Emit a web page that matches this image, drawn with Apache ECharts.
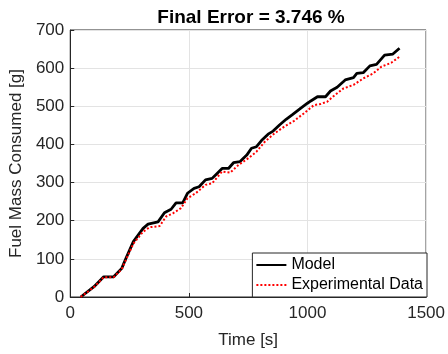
<!DOCTYPE html>
<html><head><meta charset="utf-8">
<script src="https://cdn.jsdelivr.net/npm/echarts@6/dist/echarts.min.js"></script>
<style>html,body{margin:0;padding:0;background:#fff}#c{width:448px;height:354px}</style>
</head><body><div id="c"></div>
<script>
const titleText = 'Final Error = 3.746 %';
const xTicks = [0, 500, 1000, 1500];
const yTicks = [0, 100, 200, 300, 400, 500, 600, 700];
const modelTime = [44,100,141,183,217,238,266,307,328,370,397,425,446,474,494,522,543,570,598,619,640,667,688,716,744,764,785,806,834,855,882,910,938,972,1000,1014,1042,1076,1097,1125,1159,1194,1208,1235,1263,1291,1325,1360,1388];
const modelMass = [0,27,53,53,75,106,145,180,191,197,221,230,247,247,272,285,289,307,311,324,337,337,352,355,372,390,394,410,427,435,451,466,479,495,508,514,525,525,540,550,569,575,586,588,606,610,634,637,652];
const expTime = [44,100,141,183,217,238,266,307,335,377,404,432,467,494,529,570,598,640,674,709,751,785,820,861,903,944,986,1027,1055,1083,1111,1152,1194,1235,1277,1312,1353,1388];
const expMass = [0,26,52,52,73,102,140,171,183,186,211,219,233,259,272,294,298,329,326,346,364,381,407,429,447,462,482,503,506,512,527,547,556,573,586,604,614,630];

const pair = (a, b) => a.map((v, i) => [v, b[i]]);
const txt = '#262626';
const font = 'Liberation Sans, Arial, Helvetica';
const chart = echarts.init(document.getElementById('c'));
chart.setOption({
  animation: false,
  title: { text: titleText, left: 246, top: 3, textAlign: 'center',
    textStyle: { fontFamily: font, fontWeight: 'bold', fontSize: 19, color: '#000' } },
  grid: { left: 66, right: 21, top: 30, bottom: 57, show: true, borderColor: txt, borderWidth: 1, backgroundColor: '#fff' },
  xAxis: { type: 'value', min: xTicks[0], max: xTicks[xTicks.length-1], interval: 500,
    name: 'Time [s]', nameLocation: 'middle', nameGap: 35,
    nameTextStyle: { fontFamily: font, fontSize: 17, color: txt },
    axisLine: { show: true, onZero: false, lineStyle: { color: txt } },
    axisTick: { show: true, inside: true, length: 4, lineStyle: { color: txt } },
    axisLabel: { fontFamily: font, fontSize: 17, color: txt, margin: 8, formatter: v => String(v) },
    splitLine: { show: true, lineStyle: { color: '#e3e3e3', width: 1 } } },
  yAxis: { type: 'value', min: yTicks[0], max: yTicks[yTicks.length-1], interval: 100,
    name: 'Fuel Mass Consumed [g]', nameLocation: 'middle', nameGap: 42,
    nameTextStyle: { fontFamily: font, fontSize: 17, color: txt },
    axisLine: { show: true, lineStyle: { color: txt } },
    axisTick: { show: true, inside: true, length: 4, lineStyle: { color: txt } },
    axisLabel: { fontFamily: font, fontSize: 17, color: txt, margin: 6, formatter: v => String(v) },
    splitLine: { show: true, lineStyle: { color: '#e3e3e3', width: 1 } } },
  legend: { orient: 'vertical', right: 21, bottom: 57, padding: [4, 4, 4, 3], itemGap: 4,
    itemWidth: 30, itemHeight: 16, borderColor: txt, borderWidth: 1, backgroundColor: '#fff',
    itemStyle: { opacity: 0 },
    textStyle: { fontFamily: font, fontSize: 16, color: '#000' },
    data: ['Model', 'Experimental Data'] },
  series: [
    { name: 'Model', type: 'line', symbol: 'none', data: pair(modelTime, modelMass),
      lineStyle: { color: '#000', width: 2.8 }, itemStyle: { color: '#000' }, z: 3 },
    { name: 'Experimental Data', type: 'line', symbol: 'none', data: pair(expTime, expMass),
      lineStyle: { color: '#ff0000', width: 2, type: [2, 2] }, itemStyle: { color: '#ff0000' }, z: 4 }
  ]
});
</script></body></html>
